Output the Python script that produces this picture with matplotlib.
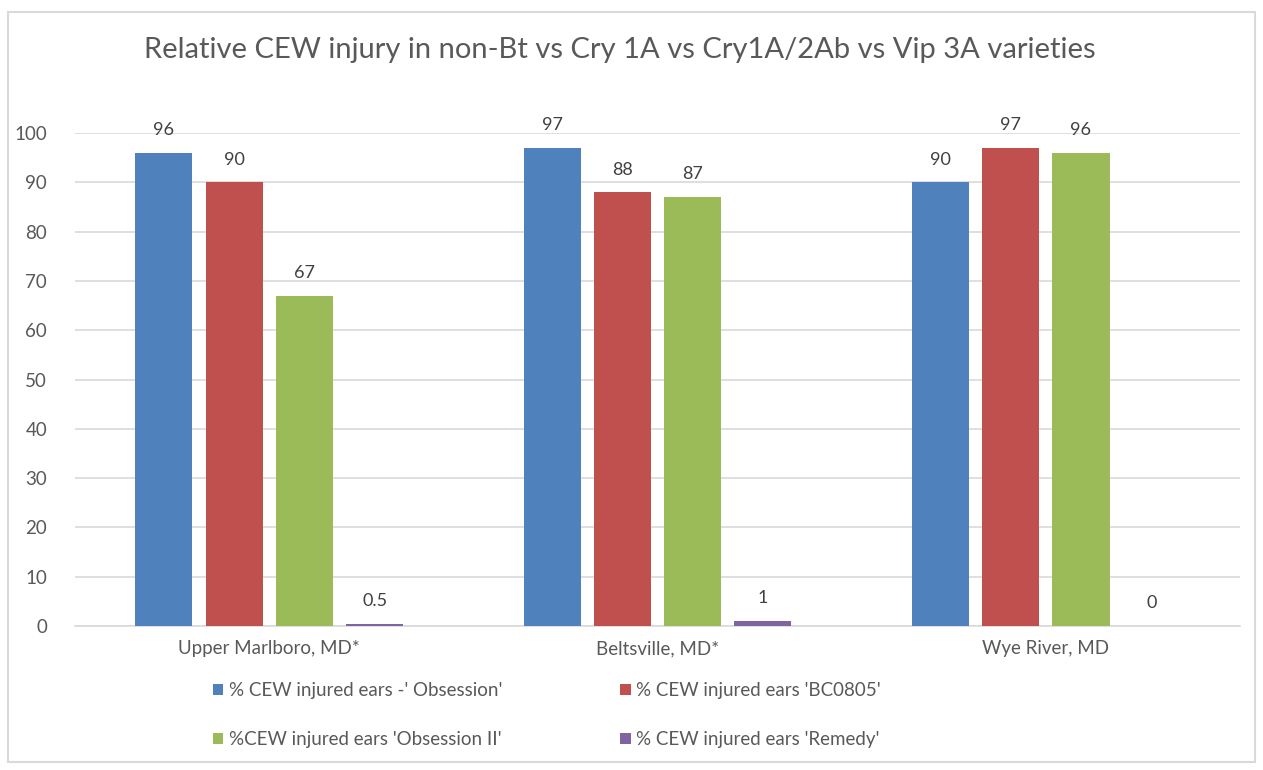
import numpy as np
import matplotlib.pyplot as plt
from matplotlib.patches import Rectangle

sites = ['Upper Marlboro, MD*', 'Beltsville, MD*', 'Wye River, MD']
series_names = ["% CEW injured ears -' Obsession'",
                "% CEW injured ears 'BC0805'",
                "%CEW injured ears 'Obsession II'",
                "% CEW injured ears 'Remedy'"]
obsession = [96, 97, 90]
bc0805 = [90, 88, 97]
obsession2 = [67, 87, 96]
remedy = [0.5, 1, 0]
label_text = [['96', '97', '90'], ['90', '88', '97'],
              ['67', '87', '96'], ['0.5', '1', '0']]

colors = ['#4F81BD', '#C0504D', '#9BBB59', '#8064A2']
gray = '#595959'

plt.rcParams['font.family'] = ['Lato', 'DejaVu Sans']

fig = plt.figure(figsize=(12.63, 7.70), dpi=100)
ax = fig.add_axes([0.0594, 0.187, 0.9224, 0.640])

x = np.arange(len(sites))
slot = 0.181
width = 0.147
all_series = [obsession, bc0805, obsession2, remedy]
for i, vals in enumerate(all_series):
    pos = x + (i - 1.5) * slot
    ax.bar(pos, vals, width, color=colors[i], label=series_names[i], zorder=3)
    for p, v, t in zip(pos, vals, label_text[i]):
        ax.text(p, v + 3.0, t, ha='center', va='bottom', fontsize=13, color='#404040')

ax.set_xlim(-0.5, 2.5)
ax.set_ylim(0, 100)
ax.set_yticks(range(0, 101, 10))
ax.yaxis.grid(True, color='#D9D9D9', linewidth=1.2, zorder=0)
ax.set_xticks(x)
ax.set_xticklabels(sites)
ax.tick_params(axis='both', length=0, labelsize=13.5, colors=gray, pad=10)
ax.tick_params(axis='y', pad=20)
for s in ['top', 'right', 'left']:
    ax.spines[s].set_visible(False)
ax.spines['bottom'].set_color('#D9D9D9')
ax.spines['bottom'].set_linewidth(1.2)
ax.set_axisbelow(True)

fig.suptitle('Relative CEW injury in non-Bt vs Cry 1A vs Cry1A/2Ab vs Vip 3A varieties',
             x=0.491, y=0.952, fontsize=21, color=gray)

# legend filled row by row, as in the original
handles, labels = ax.get_legend_handles_labels()
order = [0, 2, 1, 3]
fig.legend([handles[k] for k in order], [labels[k] for k in order], ncol=2,
           loc='center', bbox_to_anchor=(0.433, 0.071),
           frameon=False, fontsize=13.5, labelcolor=gray, handlelength=0.55,
           handleheight=0.55, handletextpad=0.3, columnspacing=6.3, labelspacing=1.7)

fig.patches.append(Rectangle((0.006, 0.01), 0.988, 0.975, transform=fig.transFigure,
                             fill=False, edgecolor='#D9D9D9', linewidth=1.5))

fig.savefig('out.png', dpi=100, facecolor='white')
